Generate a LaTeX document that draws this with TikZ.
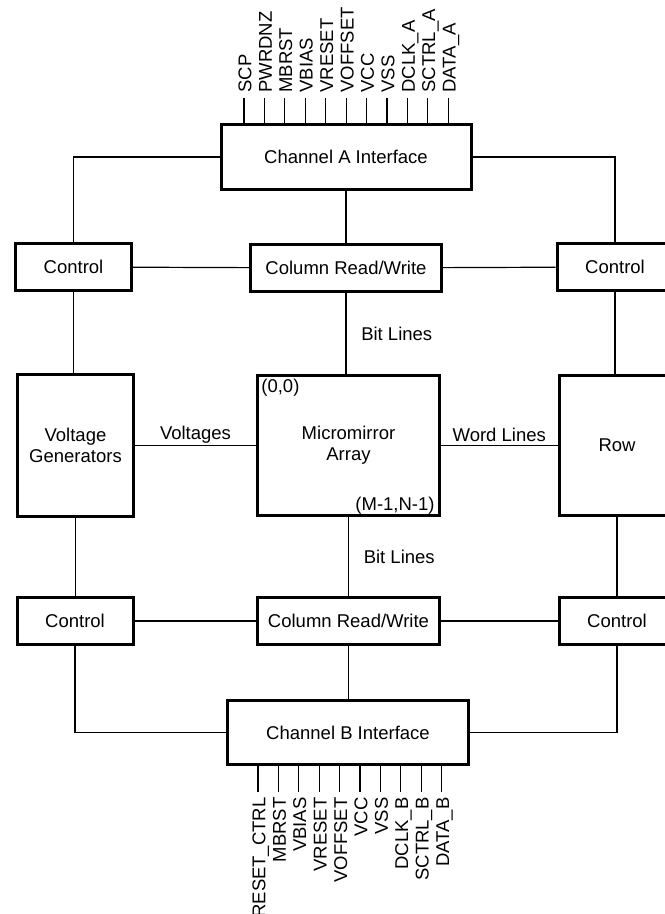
\documentclass[tikz,border=0pt]{standalone}
\usepackage{fontspec}
\setmainfont{Liberation Sans}
\begin{document}
\begin{tikzpicture}[x=0.5pt,y=-0.5pt,
    font=\fontsize{9.25}{10.5}\selectfont,
    blk/.style={draw,line width=1.5pt,align=center,inner sep=0pt},
    ctl/.style={blk,minimum width=58pt,minimum height=23.5pt},
    wire/.style={line width=0.6pt},
    pinlbl/.style={rotate=90,inner xsep=2.5pt,inner ysep=0pt,text height=1.4ex,text depth=0pt}]
  \useasboundingbox (0,0) rectangle (664,914);
  \node[blk,minimum width=125pt,minimum height=32.5pt] (chA) at (346,157) {Channel A Interface};
  \node[ctl] (ctlTL) at (73.5,267) {Control};
  \node[blk,minimum width=95.5pt,minimum height=23.5pt] (crwT) at (346,268) {Column Read/Write};
  \node[ctl] (ctlTR) at (615,267) {Control};
  \node[blk,minimum width=58pt,minimum height=71pt] (vgen) at (75.5,445.5) {Voltage\\Generators};
  \node[blk,minimum width=91pt,minimum height=70pt] (mma) at (348.5,445.5) {Micromirror\\Array};
  \node[blk,minimum width=58pt,minimum height=70pt] (row) at (617,445.5) {Row};
  \node[ctl] (ctlBL) at (75,621) {Control};
  \node[blk,minimum width=91pt,minimum height=23.5pt] (crwB) at (348.5,621) {Column Read/Write};
  \node[ctl] (ctlBR) at (617,621) {Control};
  \node[blk,minimum width=120.5pt,minimum height=32pt] (chB) at (348,732.5) {Channel B Interface};
  \node[anchor=north west,inner sep=2.5pt] (org) at (mma.north west) {(0,0)};
  \node[anchor=south east,inner xsep=3pt,inner ysep=1pt] (end) at (mma.south east) {(M-1,N-1)};

  \draw[wire] (chA.west) -| (ctlTL.north);
  \draw[wire] (chA.east) -| (ctlTR.north);
  \draw[wire] (chA.south) -- (crwT.north);
  \draw[wire] (ctlTL) -- (crwT);
  \draw[wire] (crwT) -- (ctlTR);
  \draw[wire] (ctlTL.south) -- (ctlTL.south |- vgen.north);
  \draw[wire] (crwT.south) -- node[midway,right=4pt] (blT) {Bit Lines} (crwT.south |- mma.north);
  \draw[wire] (ctlTR.south) -- (ctlTR.south |- row.north);
  \draw[wire] (vgen) -- node[above,inner sep=1pt] (volt) {Voltages} (mma);
  \draw[wire] (mma) -- node[above,inner sep=1.5pt] (wl) {Word Lines} (row);
  \draw[wire] (vgen.south) -- (vgen.south |- ctlBL.north);
  \draw[wire] (mma.south) -- node[midway,right=4pt] (blB) {Bit Lines} (crwB.north);
  \draw[wire] (row.south) -- (ctlBR.north);
  \draw[wire] (ctlBL) -- (crwB);
  \draw[wire] (crwB) -- (ctlBR);
  \draw[wire] (crwB.south) -- (crwB.south |- chB.north);
  \draw[wire] (ctlBL.south) |- (chB.west);
  \draw[wire] (ctlBR.south) |- (chB.east);

  \foreach \lbl [count=\i from 0] in {SCP,PWRDNZ,MBRST,VBIAS,VRESET,VOFFSET,VCC,VSS,DCLK\_A,SCTRL\_A,DATA\_A} {
    \coordinate (pa\i) at (244+20.42*\i,98);
    \draw[wire] (pa\i) -- (pa\i |- chA.north);
    \node[pinlbl,anchor=west] (la\i) at (pa\i) {\lbl};
  }
  \foreach \lbl [count=\i from 0] in {RESET\_CTRL,MBRST,VBIAS,VRESET,VOFFSET,VCC,VSS,DCLK\_B,SCTRL\_B,DATA\_B} {
    \coordinate (pb\i) at (258+20.4*\i,792);
    \draw[wire] (pb\i |- chB.south) -- (pb\i);
    \node[pinlbl,anchor=east] (lb\i) at (pb\i) {\lbl};
  }
\end{tikzpicture}
\end{document}
